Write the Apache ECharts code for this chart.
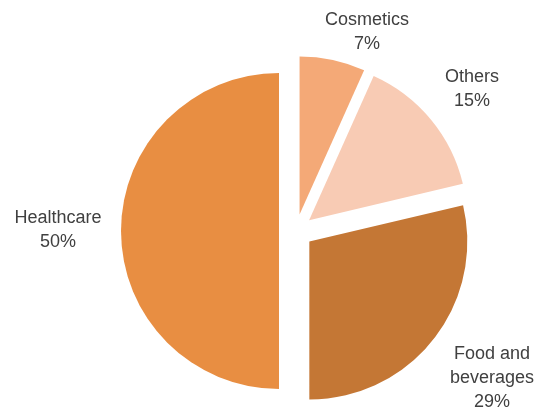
<!DOCTYPE html>
<html>
<head>
<meta charset="utf-8">
<script src="https://cdn.jsdelivr.net/npm/echarts@6/dist/echarts.min.js"></script>
<style>
html,body{margin:0;padding:0;background:#fff;}
#chart{width:534px;height:409px;}
</style>
</head>
<body>
<div id="chart"></div>
<script>
var categories = ['Cosmetics', 'Others', 'Food and\nbeverages', 'Healthcare'];
var values = [6.7, 14.6, 28.7, 50];
var colors = ['#F4A977', '#F8CBB4', '#C47735', '#E88E42'];
var labelPos = [[367, 32.5], [472, 89], [492, 378], [58, 230.5]];

var chart = echarts.init(document.getElementById('chart'), null, {renderer: 'canvas'});
chart.setOption({
  animation: false,
  graphic: categories.map(function (c, i) {
    return {
      type: 'text',
      x: labelPos[i][0],
      y: labelPos[i][1],
      silent: true,
      style: {
        text: c + '\n' + Math.round(values[i]) + '%',
        font: '18px "Liberation Sans"',
        lineHeight: 24,
        fill: '#404040',
        align: 'center',
        verticalAlign: 'middle'
      }
    };
  }),
  series: [{
    type: 'pie',
    center: [296, 231],
    radius: [0, 158],
    startAngle: 90,
    clockwise: true,
    selectedMode: 'multiple',
    selectedOffset: 17,
    emphasis: {disabled: true},
    itemStyle: {borderWidth: 0},
    label: {show: false},
    labelLine: {show: false},
    data: categories.map(function (c, i) {
      return {name: c, value: values[i], selected: true, itemStyle: {color: colors[i]}};
    })
  }]
});
</script>
</body>
</html>
